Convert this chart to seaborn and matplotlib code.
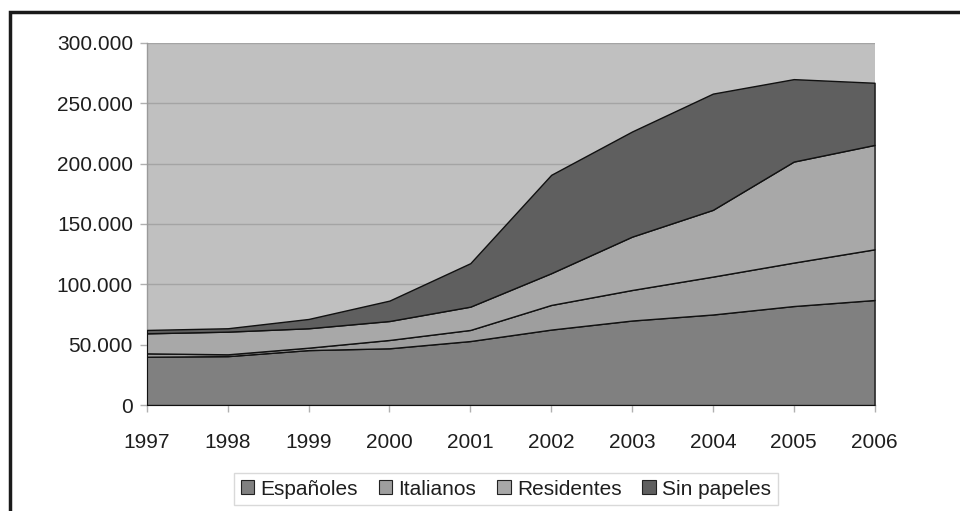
import numpy as np
import pandas as pd
import seaborn as sns
import matplotlib.pyplot as plt
from matplotlib.patches import Patch, Rectangle
from matplotlib.ticker import FuncFormatter

# datos (valores aproximados)
years = [1997, 1998, 1999, 2000, 2001, 2002, 2003, 2004, 2005, 2006]
espanoles = [40000, 40500, 45500, 47000, 53000, 62500, 70000, 75000, 82000, 87000]
italianos = [2800, 1500, 2000, 6900, 9200, 20400, 25300, 31400, 36000, 42000]
residentes = [16600, 18800, 16100, 15700, 19300, 26300, 44200, 55300, 83700, 86500]
sin_papeles = [2800, 2800, 7700, 16900, 36000, 81500, 87100, 96300, 68300, 51500]

series = ['Españoles', 'Italianos', 'Residentes', 'Sin papeles']
colors = ['#808080', '#9e9e9e', '#a8a8a8', '#5f5f5f']

data = pd.DataFrame({'year': years, 'Españoles': espanoles, 'Italianos': italianos,
                     'Residentes': residentes, 'Sin papeles': sin_papeles})

sns.set_theme(style='white')
plt.rcParams['font.family'] = ['Liberation Sans', 'DejaVu Sans']

fig = plt.figure(figsize=(9.6, 5.11), dpi=100)
ax = fig.add_axes([0.153, 0.2074, 0.758, 0.7086])
ax.set_facecolor('#c0c0c0')

ax.stackplot(data['year'], *[data[s] for s in series], colors=colors,
             edgecolor='#111111', linewidth=1.0, zorder=3)

ax.set_xlim(1997, 2006)
ax.set_ylim(0, 300000)
ax.set_xticks(years)
ax.set_yticks(np.arange(0, 300001, 50000))
ax.yaxis.set_major_formatter(FuncFormatter(lambda v, p: f'{int(v):,}'.replace(',', '.')))
ax.grid(axis='y', color='#a4a4a4', linewidth=1.0, zorder=1)
ax.set_axisbelow(True)

for side in ['top', 'right']:
    ax.spines[side].set_visible(False)
for side in ['left', 'bottom']:
    ax.spines[side].set_color('#9a9a9a')
    ax.spines[side].set_linewidth(1.0)

ax.tick_params(axis='both', which='major', labelsize=15, labelcolor='#1e1e1e',
               color='#b0b0b0', length=5, width=1, direction='out',
               bottom=True, left=True)
ax.tick_params(axis='y', pad=5)
ax.tick_params(axis='x', pad=15)

handles = [Patch(facecolor=c, edgecolor='#222222', linewidth=0.8) for c in colors]
leg = fig.legend(handles, series, loc='center', bbox_to_anchor=(0.527, 0.043), ncol=4,
                 fontsize=15, frameon=True, fancybox=False, handlelength=0.65,
                 handleheight=0.65, handletextpad=0.3, columnspacing=1.0,
                 borderpad=0.3, borderaxespad=0, labelcolor='#1e1e1e')
leg.get_frame().set_edgecolor('#d0d0d0')
leg.get_frame().set_linewidth(1.0)

# marco negro de la figura
fig.patches.append(Rectangle((10 / 960, -0.2), 1.5, 0.2 + 1 - 12 / 511,
                             transform=fig.transFigure, fill=False,
                             edgecolor='#1a1a1a', linewidth=2.5))

plt.savefig('out.png', dpi=100)
